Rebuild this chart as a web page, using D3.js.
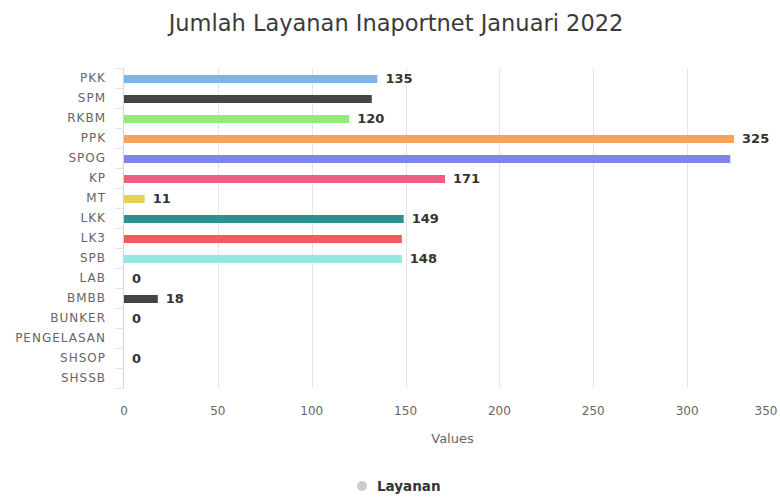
<!DOCTYPE html>
<html>
<head>
<meta charset="utf-8">
<script src="https://cdn.jsdelivr.net/npm/d3@7"></script>
<style>
  body { margin: 0; background: #fff; }
  svg { font-family: "DejaVu Sans", sans-serif; }
</style>
</head>
<body>
<svg width="780" height="497"></svg>
<script>
// data
const categories = ["PKK", "SPM", "RKBM", "PPK", "SPOG", "KP", "MT", "LKK", "LK3", "SPB",
                    "LAB", "BMBB", "BUNKER", "PENGELASAN", "SHSOP", "SHSSB"];
const values = [135, 132, 120, 325, 323, 171, 11, 149, 148, 148, 0, 18, 0, null, 0, null];
// which data labels the original shows (others hidden by overlap)
const showLabel = [true, false, true, true, false, true, true, true, false, true,
                   true, true, true, false, true, false];
const palette = ["#7cb5ec", "#434348", "#90ed7d", "#f7a35c", "#8085e9",
                 "#f15c80", "#e4d354", "#2b908f", "#f45b5b", "#91e8e1"];
const xTicks = [0, 50, 100, 150, 200, 250, 300, 350];

const svg = d3.select("svg");

var plotLeft = 124, plotRight = 781, plotTop = 68, plotBottom = 388;

var xScale = d3.scaleLinear().domain([0, 350]).range([plotLeft, plotRight]);
var yScale = d3.scaleBand().domain(categories).range([plotTop, plotBottom]);

// title
svg.append("text")
    .attr("x", 396)
    .attr("y", 31)
    .attr("text-anchor", "middle")
    .style("font-size", "22.5px")
    .style("fill", "#3a3a3a")
    .text("Jumlah Layanan Inaportnet Januari 2022");

// grid lines
svg.append("g")
    .selectAll("line")
    .data(xTicks.slice(1))
    .enter()
    .append("line")
    .attr("x1", d => Math.round(xScale(d)) + 0.5)
    .attr("x2", d => Math.round(xScale(d)) + 0.5)
    .attr("y1", plotTop)
    .attr("y2", plotBottom)
    .style("stroke", "#e6e6e6");

// x axis labels
svg.append("g")
    .selectAll("text")
    .data(xTicks)
    .enter()
    .append("text")
    .attr("x", d => Math.min(xScale(d), 766))
    .attr("y", 415)
    .attr("text-anchor", "middle")
    .style("font-size", "12px")
    .style("fill", "#666666")
    .text(d => d);

svg.append("text")
    .attr("x", (plotLeft + plotRight) / 2)
    .attr("y", 443)
    .attr("text-anchor", "middle")
    .style("font-size", "13px")
    .style("fill", "#666666")
    .text("Values");

// y axis line + tick marks
svg.append("line")
    .attr("x1", plotLeft - 0.5).attr("x2", plotLeft - 0.5)
    .attr("y1", plotTop).attr("y2", plotBottom)
    .style("stroke", "#ccd6eb");

var bounds = categories.map(c => yScale(c)).concat([plotBottom]);
svg.append("g")
    .selectAll("line")
    .data(bounds)
    .enter()
    .append("line")
    .attr("x1", plotLeft - 8).attr("x2", plotLeft)
    .attr("y1", d => Math.round(d) + 0.5)
    .attr("y2", d => Math.round(d) + 0.5)
    .style("stroke", "#dde3ef");

// category labels
svg.append("g")
    .selectAll("text")
    .data(categories)
    .enter()
    .append("text")
    .attr("x", 106)
    .attr("y", d => yScale(d) + yScale.bandwidth() / 2 + 4)
    .attr("text-anchor", "end")
    .style("font-size", "12px")
    .style("letter-spacing", "1px")
    .style("fill", "#666666")
    .text(d => d);

// bars
var barH = 8;
svg.append("g")
    .selectAll("rect")
    .data(categories)
    .enter()
    .filter((d, i) => values[i] != null && values[i] > 0)
    .append("rect")
    .attr("x", plotLeft)
    .attr("y", d => yScale(d) + yScale.bandwidth() / 2 - barH / 2 + 1)
    .attr("width", d => xScale(values[categories.indexOf(d)]) - plotLeft)
    .attr("height", barH)
    .style("fill", d => palette[categories.indexOf(d) % palette.length]);

// data labels
svg.append("g")
    .selectAll("text")
    .data(categories)
    .enter()
    .filter((d, i) => values[i] != null && showLabel[i])
    .append("text")
    .attr("x", d => xScale(values[categories.indexOf(d)]) + 8)
    .attr("y", d => yScale(d) + yScale.bandwidth() / 2 + 5)
    .style("font-size", "13px")
    .style("font-weight", "bold")
    .style("fill", "#333333")
    .text(d => values[categories.indexOf(d)]);

// legend
svg.append("circle")
    .attr("cx", 362)
    .attr("cy", 486)
    .attr("r", 5)
    .style("fill", "#cccccc");

svg.append("text")
    .attr("x", 377)
    .attr("y", 491)
    .style("font-size", "13.5px")
    .style("font-weight", "bold")
    .style("fill", "#333333")
    .text("Layanan");
</script>
</body>
</html>
